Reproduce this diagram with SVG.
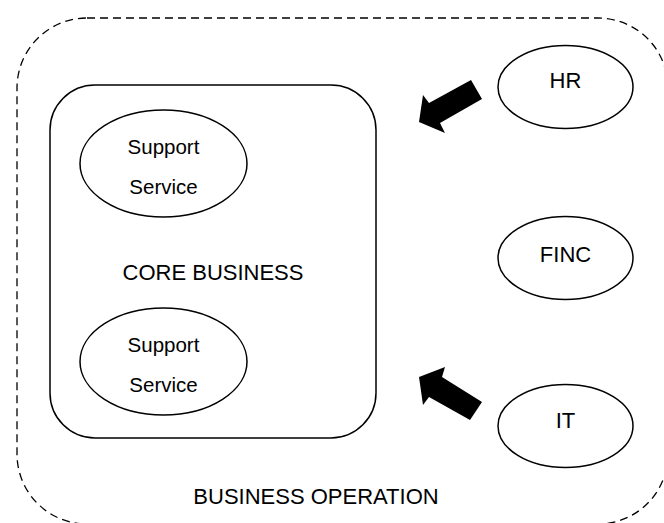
<svg xmlns="http://www.w3.org/2000/svg" width="664" height="523" viewBox="0 0 664 523">
  <style>
    .shape { fill: #ffffff; stroke: #000000; stroke-width: 1.5; }
    .dashed { fill: none; stroke: #000000; stroke-width: 1.3; stroke-dasharray: 8 5; }
    .label { font-family: "Liberation Sans", Arial, sans-serif; fill: #000000; text-anchor: middle; }
    .caps { font-size: 22px; }
    .small { font-size: 20.5px; }
    .arrow { fill: #000000; stroke: none; }
  </style>
  <rect width="664" height="523" fill="#ffffff"/>

  <!-- outer boundary: business operation -->
  <g id="business-operation">
    <rect class="dashed" x="17" y="18" width="651" height="506" rx="70" ry="70"/>
    <text class="label caps" x="316" y="504">BUSINESS OPERATION</text>
  </g>

  <!-- core business container -->
  <g id="core-business">
    <rect class="shape" x="50" y="85" width="326" height="353" rx="45" ry="45"/>
    <text class="label caps" x="213" y="280">CORE BUSINESS</text>
  </g>

  <g id="support-service-1">
    <ellipse class="shape" cx="163.5" cy="163.5" rx="83.5" ry="53.5"/>
    <text class="label small" x="163.5" y="154">Support</text>
    <text class="label small" x="163.5" y="194">Service</text>
  </g>

  <g id="support-service-2">
    <ellipse class="shape" cx="163.5" cy="361.5" rx="83.5" ry="53.5"/>
    <text class="label small" x="163.5" y="352">Support</text>
    <text class="label small" x="163.5" y="392">Service</text>
  </g>

  <g id="hr">
    <ellipse class="shape" cx="565.5" cy="87" rx="67.5" ry="41.5"/>
    <text class="label caps" x="565.5" y="88">HR</text>
  </g>

  <g id="finc">
    <ellipse class="shape" cx="565.5" cy="258" rx="67.5" ry="41.5"/>
    <text class="label caps" x="565.5" y="262">FINC</text>
  </g>

  <g id="it">
    <ellipse class="shape" cx="565.5" cy="426" rx="67.5" ry="41.5"/>
    <text class="label caps" x="565.5" y="428">IT</text>
  </g>

  <!-- block arrows pointing into the core -->
  <g id="connectors">
    <polygon class="arrow" points="419,122 423,95 429,103 471,80 482,99 440,123 445,133"/>
    <polygon class="arrow" points="419,377 445,367 442,377 482,402 470,420 429,397 423,405"/>
  </g>
</svg>
